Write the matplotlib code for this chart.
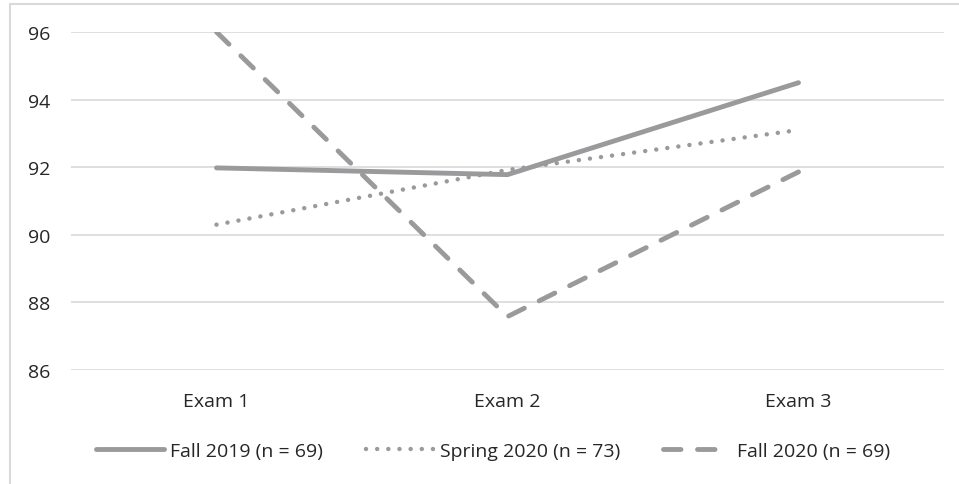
import matplotlib.pyplot as plt
from matplotlib.patches import Rectangle

exams = ['Exam 1', 'Exam 2', 'Exam 3']
fall_2019 = [91.98, 91.78, 94.5]
spring_2020 = [90.3, 91.92, 93.1]
fall_2020 = [96.0, 87.58, 91.86]
yticks = [86, 88, 90, 92, 94, 96]

plt.rcParams['font.family'] = ['Open Sans', 'DejaVu Sans']

fig = plt.figure(figsize=(9.59, 4.85), dpi=100)
ax = fig.add_axes([71/959, 1 - 371/485, (944 - 71)/959, (371 - 33)/485])

gray = '#9a9a9d'
x = range(len(exams))
ax.plot(x, fall_2019, color=gray, lw=3.5, solid_capstyle='round',
        label='Fall 2019 (n = 69)')
ax.plot(x, spring_2020, color=gray, lw=3.2, linestyle=(0, (0.01, 2.5)),
        dash_capstyle='round', label='Spring 2020 (n = 73)')
ax.plot(x, fall_2020, color=gray, lw=3.5, linestyle=(0, (3.6, 3.4)),
        dash_capstyle='round', label='Fall 2020 (n = 69)')

ax.set_xlim(-0.5, len(exams) - 0.5)
ax.set_ylim(86, 96)
ax.set_yticks(yticks)
ax.set_xticks(list(x))
ax.set_xticklabels(exams)
ax.yaxis.grid(True, color='#d9d9d9', lw=1.2)
ax.set_axisbelow(True)
for s in ax.spines.values():
    s.set_visible(False)
ax.tick_params(length=0, labelsize=14, colors='#262626')
ax.tick_params(axis='y', pad=15)
ax.tick_params(axis='x', pad=16)

fig.legend(loc='center', bbox_to_anchor=(493/959, 1 - 452/485), ncol=3,
           frameon=False, fontsize=14, handlelength=3.5, columnspacing=2.2,
           handletextpad=0.3, labelcolor='#262626')

# outer chart frame
fig.patches.append(Rectangle((10/959, -0.1), 1.1, 1 - 5/485 + 0.1,
                             transform=fig.transFigure, fill=False,
                             edgecolor='#d9d9d9', lw=1.5))

fig.savefig('out.png', dpi=100)
